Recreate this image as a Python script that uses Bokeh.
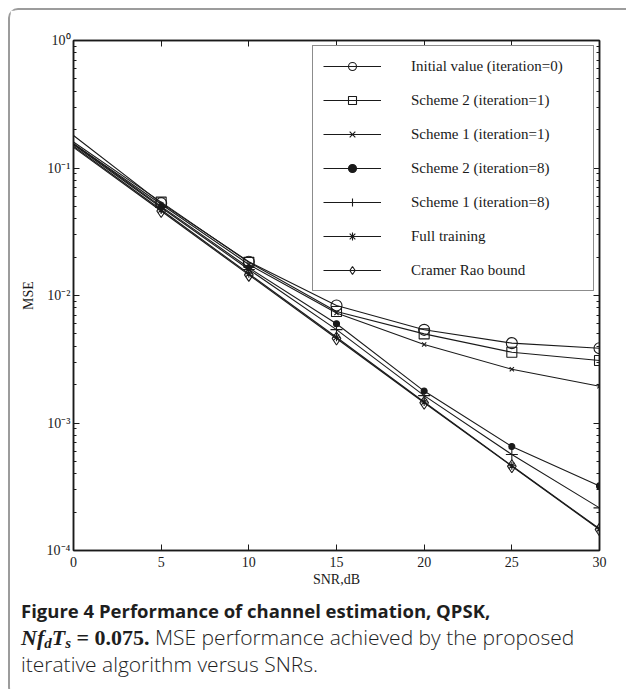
from bokeh.plotting import figure
from bokeh.models import (Range1d, LogAxis, LinearAxis, LogTicker,
                          CustomJSTickFormatter, Legend, LegendItem, Div)
from bokeh.layouts import column
from bokeh.embed import file_html
from bokeh.resources import INLINE

# ---- data ----
snr = [0, 5, 10, 15, 20, 25, 30]
initial_it0 = [0.18, 0.053, 0.0184, 0.00835, 0.00538, 0.00423, 0.00386]
scheme2_it1 = [0.16, 0.054, 0.0182, 0.0075, 0.0050, 0.00359, 0.00309]
scheme1_it1 = [0.155, 0.052, 0.0175, 0.0073, 0.00413, 0.00264, 0.00194]
scheme2_it8 = [0.155, 0.050, 0.0165, 0.0060, 0.00178, 0.000654, 0.000321]
scheme1_it8 = [0.152, 0.049, 0.0160, 0.0054, 0.00164, 0.000566, 0.000216]
full_training = [0.148, 0.047, 0.0148, 0.0047, 0.00146, 0.000462, 0.000148]
crb = [0.145, 0.046, 0.0145, 0.0046, 0.00144, 0.000458, 0.000146]
series_names = ["Initial value (iteration=0)", "Scheme 2 (iteration=1)", "Scheme 1 (iteration=1)",
                "Scheme 2 (iteration=8)", "Scheme 1 (iteration=8)", "Full training", "Cramer Rao bound"]
x_ticks = [0, 5, 10, 15, 20, 25, 30]

SERIF = "Liberation Serif"
INK = "#1a1a1a"

p = figure(width=616, height=580, y_axis_type="log",
           x_range=Range1d(0, 30), y_range=Range1d(1e-4, 1),
           output_backend="svg", toolbar_location=None,
           min_border_left=63, min_border_right=27, min_border_top=30, min_border_bottom=40)
p.grid.visible = False
p.outline_line_color = INK
p.outline_line_width = 1.5
p.background_fill_color = "white"
p.border_fill_color = "white"

sup_js = """
const e = Math.round(Math.log10(tick));
const m = {"-":"\u207b","0":"\u2070","1":"\u00b9","2":"\u00b2","3":"\u00b3","4":"\u2074","5":"\u2075","6":"\u2076","7":"\u2077","8":"\u2078","9":"\u2079"};
return "10" + String(e).split("").map(c => m[c]).join("");
"""

def style_axis(ax, labels=True):
    ax.axis_line_color = INK
    ax.axis_line_width = 1.5
    ax.major_tick_line_color = INK
    ax.minor_tick_line_color = INK
    ax.major_tick_in = 6
    ax.major_tick_out = 0
    ax.minor_tick_in = 3
    ax.minor_tick_out = 0
    ax.major_label_text_font = SERIF
    ax.major_label_text_font_size = "14px"
    ax.major_label_text_color = INK
    ax.axis_label_text_font = SERIF
    ax.axis_label_text_font_size = "14px"
    ax.axis_label_text_font_style = "normal"
    ax.axis_label_text_color = INK
    if not labels:
        ax.major_label_text_alpha = 0
        ax.major_label_text_font_size = "1px"

# left / bottom
ylog = p.yaxis[0]
ylog.ticker = LogTicker(num_minor_ticks=10)
ylog.formatter = CustomJSTickFormatter(code=sup_js)
ylog.axis_label = "MSE"
ylog.major_label_standoff = 3
ylog.axis_label_standoff = 8
style_axis(ylog)

xb = p.xaxis[0]
xb.ticker = x_ticks
xb.axis_label = "SNR,dB"
xb.major_label_standoff = 6
xb.axis_label_standoff = 2
style_axis(xb)
xb.minor_tick_in = 0

# right / top mirror axes
yr = LogAxis(ticker=LogTicker(num_minor_ticks=10))
style_axis(yr, labels=False)
p.add_layout(yr, "right")
xt = LinearAxis(ticker=x_ticks)
style_axis(xt, labels=False)
xt.minor_tick_in = 0
p.add_layout(xt, "above")

series = [initial_it0, scheme2_it1, scheme1_it1, scheme2_it8, scheme1_it8, full_training, crb]
markers = [
    dict(marker="circle", size=11, fill_color=None),
    dict(marker="square", size=10, fill_color=None),
    dict(marker="x", size=6, fill_color=None),
    dict(marker="circle", size=6, fill_color=INK),
    dict(marker="cross", size=12, fill_color=None),
    dict(marker="asterisk", size=8, fill_color=None),
    dict(marker="diamond", size=13, fill_color=None),
]

items = []
for name, ys, mk in zip(series_names, series, markers):
    ln = p.line(snr, ys, line_color=INK, line_width=1.1)
    sc = p.scatter(snr[1:], ys[1:], line_color=INK, line_width=1.1, **mk)
    items.append(LegendItem(label=name, renderers=[ln, sc]))

legend = Legend(items=items, location=(239, 259),
                border_line_color=INK, border_line_width=1.5,
                background_fill_color="white", background_fill_alpha=1.0,
                label_text_font=SERIF, label_text_font_size="15px", label_text_color=INK,
                glyph_width=58, glyph_height=20, label_height=20, label_standoff=30,
                spacing=14, padding=10, margin=0, label_width=172)
p.add_layout(legend)

sub = 'font-size:68%;vertical-align:-0.22em;line-height:0;'
caption_html = (
    '<div style="font-family:\'Open Sans\',sans-serif;font-size:21px;font-weight:300;line-height:27px;'
    'color:#1e1e1e;white-space:nowrap;">'
    '<b style="font-size:18.5px;font-weight:700;">Figure 4 Performance of channel estimation, QPSK,</b><br>'
    '<b style="font-family:\'Liberation Serif\',serif;font-size:22px;font-weight:700;"><i>Nf<span style="' + sub + '">d</span>'
    'T<span style="' + sub + '">s</span></i> = 0.075.</b> '
    'MSE performance achieved by the proposed<br>'
    'iterative algorithm versus SNRs.</div>'
)
cap = Div(text=caption_html, width=616, height=97,
          styles={"padding-left": "6px", "padding-top": "2px", "background": "white"})

layout = column(p, cap, spacing=0,
                styles={"border-left": "2px solid #9c9c9c", "border-top": "2px solid #9c9c9c",
                        "border-top-left-radius": "10px", "border-bottom-left-radius": "10px",
                        "margin-left": "8px", "margin-top": "8px", "background": "white"})

open("out.html", "w").write(file_html(layout, INLINE))
